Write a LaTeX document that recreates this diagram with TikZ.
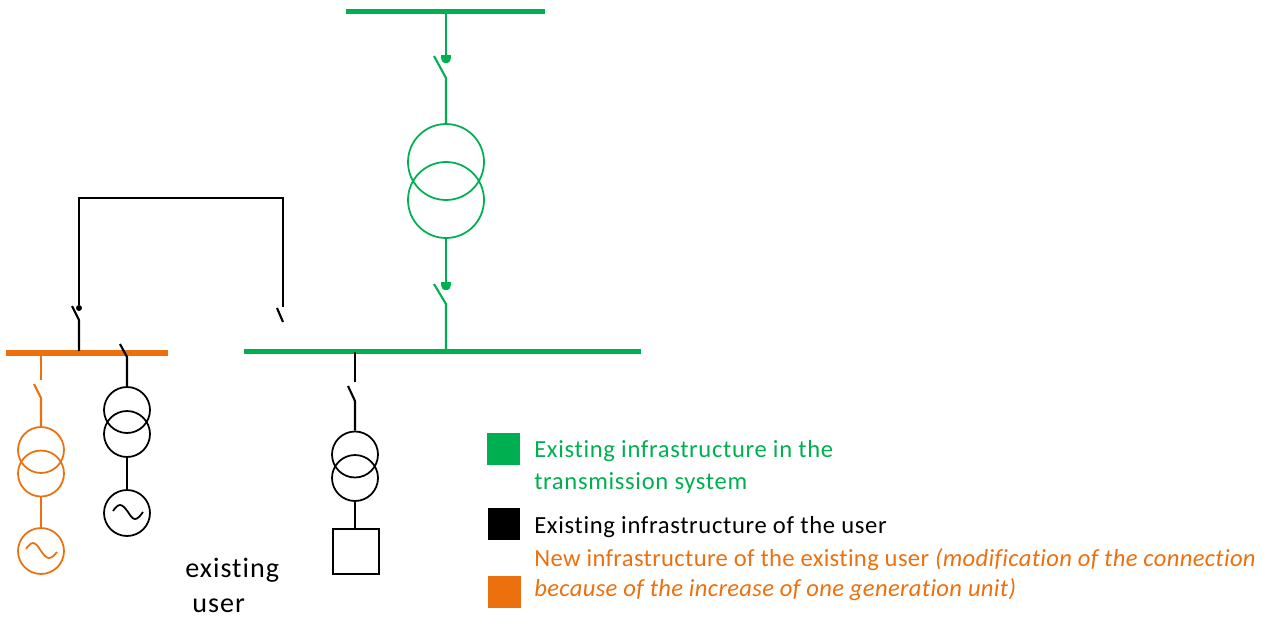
\documentclass[tikz,border=0pt]{standalone}
\usepackage{fontspec}
\setmainfont{Carlito}
\newfontfamily\legendfont[LetterSpace=2.7,Ligatures=NoCommon]{Carlito}
\newfontfamily\newinfrafont[LetterSpace=1.4,Ligatures=NoCommon]{Carlito}
\newfontfamily\userfont[LetterSpace=3.6,Ligatures=NoCommon]{Carlito}
\usepackage{tikz}
\definecolor{tsogreen}{RGB}{0,176,80}
\definecolor{neworange}{RGB}{236,113,14}
\tikzset{
  wire/.style={line width=1.2pt},
  trafo/.style={circle,draw,line width=1pt,inner sep=0pt,minimum size=0.92cm},
  trafobig/.style={circle,draw,line width=1pt,inner sep=0pt,minimum size=1.52cm},
  bus/.style={rectangle,fill,inner sep=0pt,minimum height=0.11cm},
  legendbox/.style={rectangle,fill,inner sep=0pt,minimum size=0.65cm},
  legendtext/.style={anchor=base west,inner sep=0pt,font=\legendfont\fontsize{14}{16}\selectfont},
  newtext/.style={anchor=base west,inner sep=0pt,neworange,font=\newinfrafont\fontsize{14}{16}\selectfont},
  usertext/.style={anchor=base west,inner sep=0pt,font=\userfont\fontsize{16}{19}\selectfont},
  cupend/.pic={\fill (-5,-4) -- (5,-4) .. controls (5,3) and (3,4) .. (0,4) .. controls (-3,4) and (-5,3) .. (-5,-4) -- cycle;}
}
\begin{document}
\begin{tikzpicture}[x=0.02cm,y=-0.02cm]
\useasboundingbox (0,0) rectangle (1268,619);
% busbars
\node[bus,tsogreen,minimum width=3.98cm] (bustop) at (445.5,11.5) {};
\node[bus,tsogreen,minimum width=7.94cm] (busmain) at (442.5,351.5) {};
\node[bus,neworange,minimum width=3.24cm] (busnew) at (87,353) {};
% green bay
\coordinate (t0) at (446,11);
\coordinate (t1) at (446,58);
\coordinate (t2) at (446,78);
\coordinate (t3) at (434,56);
\coordinate (t4) at (446,285);
\coordinate (t5) at (446,304);
\coordinate (t6) at (434,284);
\coordinate (t7) at (446,351);
\node[trafobig,tsogreen] (tr1) at (446,162) {};
\node[trafobig,tsogreen] (tr2) at (446,200) {};
\pic[tsogreen] at (446,59) {cupend};
\pic[tsogreen] at (446,286) {cupend};
\draw[wire,tsogreen] (t0) -- (t1);
\draw[wire,tsogreen] (t3) -- (t2) -- (tr1.north);
\draw[wire,tsogreen] (tr2.south) -- (t4);
\draw[wire,tsogreen] (t6) -- (t5) -- (t7);
% load bay
\coordinate (l0) at (355,352);
\coordinate (l1) at (355,382);
\coordinate (l2) at (348,386);
\coordinate (l3) at (355,401);
\node[trafo] (tr3) at (355,454.5) {};
\node[trafo] (tr4) at (355,478) {};
\node[rectangle,draw,line width=1pt,inner sep=0pt,minimum size=0.91cm] (load) at (356,551.5) {};
\draw[wire] (l0) -- (l1);
\draw[wire] (l2) -- (l3) -- (tr3.north);
\draw[wire] (tr4.south) -- (load.north -| tr4);
% link between the bars
\coordinate (k0) at (79,351);
\coordinate (k1) at (79,320);
\coordinate (k2) at (72,306);
\coordinate (k3) at (79,198);
\coordinate (k4) at (283,198);
\coordinate (k5) at (283,307);
\coordinate (k6) at (277,308);
\coordinate (k7) at (283,322);
\node[circle,fill,inner sep=0pt,minimum size=0.12cm] (kdot) at (79,308) {};
\draw[wire] (k0) -- (k1) -- (k2);
\draw[wire] (kdot) -- (k3) -- (k4) -- (k5);
\draw[wire] (k6) -- (k7);
% black generator
\coordinate (g0) at (120,344);
\coordinate (g1) at (127,357);
\node[trafo] (tr5) at (127,410) {};
\node[trafo] (tr6) at (127,434) {};
\node[trafo] (gen1) at (127,513) {};
\draw[wire] (g0) -- (g1) -- (tr5.north);
\draw[wire] (tr6.south) -- (gen1.north);
\draw[line width=1pt] (113,511) sin (120,505) cos (128,512) sin (135,519) cos (143,512);
% orange generator
\coordinate (n0) at (41,355);
\coordinate (n1) at (41,380);
\coordinate (n2) at (34,384);
\coordinate (n3) at (41,398);
\node[trafo,neworange] (tr7) at (41,450) {};
\node[trafo,neworange] (tr8) at (41,473.5) {};
\node[trafo,neworange] (gen2) at (41,551) {};
\draw[wire,neworange] (n0) -- (n1);
\draw[wire,neworange] (n2) -- (n3) -- (tr7.north);
\draw[wire,neworange] (tr8.south) -- (gen2.north);
\draw[line width=1pt,neworange] (26,549) sin (33,543) cos (41,551) sin (49,558) cos (57,552);
% legend
\node[legendbox,tsogreen] (leg1) at (503.5,449) {};
\node[legendbox,black] (leg2) at (504,524) {};
\node[legendbox,neworange] (leg3) at (504.5,592) {};
\node[legendtext,tsogreen] (txt1) at (534,457) {Existing infrastructure in the};
\node[legendtext,tsogreen] (txt2) at (534,489) {transmission system};
\node[legendtext] (txt3) at (534,533) {Existing infrastructure of the user};
\node[newtext] (txt4) at (534,566) {New infrastructure of the existing user \textit{(modification of the connection}};
\node[newtext] (txt5) at (534,596) {\textit{because of the increase of one generation unit)}};
\node[usertext] (usr1) at (185,577) {existing};
\node[usertext] (usr2) at (192,612) {user};
\end{tikzpicture}
\end{document}
